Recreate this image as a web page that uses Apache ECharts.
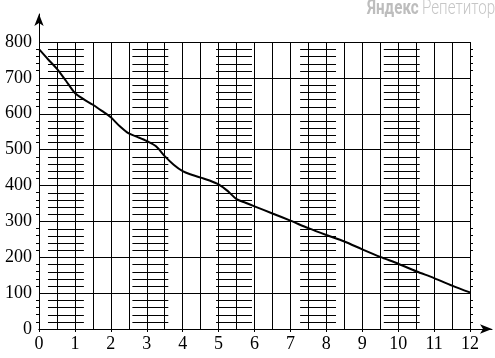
<!DOCTYPE html>
<html>
<head>
<meta charset="utf-8">
<script src="https://cdn.jsdelivr.net/npm/echarts@6/dist/echarts.min.js"></script>
<style>html,body{margin:0;padding:0;background:#fff}#c{width:495px;height:358px}</style>
</head>
<body>
<div id="c"></div>
<script>
// Curve data (x, y)
var xs = [0, 0.25, 0.5, 0.75, 1, 1.25, 1.5, 1.75, 2, 2.25, 2.5, 2.75, 3, 3.25, 3.5, 3.75, 4, 4.25, 4.5, 4.75, 5, 5.25, 5.5, 5.75, 6, 6.5, 7, 7.5, 8, 8.5, 9, 9.5, 10, 10.5, 11, 11.5, 12];
var ys = [780, 752, 725, 692, 658, 640, 625, 608, 590, 565, 545, 535, 524, 510, 482, 458, 440, 430, 422, 414, 403, 385, 362, 352, 342, 322, 302, 281, 262, 244, 222, 201, 182, 161, 142, 121, 102];
var xTicks = [0, 1, 2, 3, 4, 5, 6, 7, 8, 9, 10, 11, 12];
var yTicks = [0, 100, 200, 300, 400, 500, 600, 700, 800];
// Fine-ruled bands (x start, x end)
var bandStart = [0.25, 2.6, 4.93, 7.27, 9.6];
var bandEnd = [1.25, 3.6, 5.93, 8.27, 10.6];
var ruleLevels = [20, 40, 60, 80, 120, 140, 160, 180, 220, 240, 260, 280, 320, 340, 360, 380, 420, 440, 460, 480, 520, 540, 560, 580, 620, 640, 660, 680, 720, 740, 760, 780];

var curve = xs.map(function (x, i) { return [x, ys[i]]; });
var rules = [];
bandStart.forEach(function (s, i) {
  ruleLevels.forEach(function (y) { rules.push([s, bandEnd[i], y]); });
});

var font = 'Liberation Serif';
var chart = echarts.init(document.getElementById('c'), null, {renderer: 'canvas'});
chart.setOption({
  animation: false,
  backgroundColor: '#fff',
  graphic: [
    {
      type: 'text', x: 367, y: -1, scaleX: 0.76, scaleY: 1, originX: 0, originY: 0, silent: true,
      style: {text: 'Яндекс', font: 'bold 20px Roboto', fill: '#bdbdbd', textVerticalAlign: 'top'}
    },
    {
      type: 'text', x: 422, y: -1, scaleX: 0.76, scaleY: 1, originX: 0, originY: 0, silent: true,
      style: {text: 'Репетитор', font: '300 20px Roboto', fill: '#c6c6c6', textVerticalAlign: 'top'}
    }
  ],
  grid: [
    {left: 39, right: 25, top: 42, bottom: 29},
    {left: 39, right: 3, top: 42, bottom: 29},
    {left: 39, right: 25, top: 14, bottom: 29}
  ],
  xAxis: [
    {
      gridIndex: 0, type: 'value', min: 0, max: 12, interval: 1,
      axisLine: {show: true, lineStyle: {color: '#000', width: 1}},
      axisTick: {show: true, length: 3, lineStyle: {color: '#000'}},
      axisLabel: {fontFamily: font, fontSize: 18, color: '#000', margin: 6,
        formatter: function (v) { return xTicks.indexOf(v) >= 0 ? String(v) : ''; }},
      splitLine: {show: true, lineStyle: {color: '#000', width: 1}},
      minorTick: {show: false, splitNumber: 2},
      minorSplitLine: {show: true, lineStyle: {color: '#000', width: 1}}
    },
    {
      gridIndex: 1, type: 'value', min: 0, max: 12,
      axisLine: {show: true, symbol: ['none', 'arrow'], symbolSize: [7, 12], lineStyle: {color: '#000', width: 1}},
      axisTick: {show: false}, axisLabel: {show: false}, splitLine: {show: false}
    },
    {
      gridIndex: 2, type: 'value', min: 0, max: 12, show: false
    }
  ],
  yAxis: [
    {
      gridIndex: 0, type: 'value', min: 0, max: 800, interval: 100,
      axisLine: {show: true, lineStyle: {color: '#000', width: 1}},
      axisTick: {show: false},
      axisLabel: {fontFamily: font, fontSize: 18, color: '#000', margin: 7,
        formatter: function (v) { return yTicks.indexOf(v) >= 0 ? String(v) : ''; }},
      splitLine: {show: true, lineStyle: {color: '#000', width: 1}},
      minorTick: {show: true, splitNumber: 5, length: 3, lineStyle: {color: '#000'}},
      minorSplitLine: {show: false}
    },
    {
      gridIndex: 0, type: 'value', min: 0, max: 800, interval: 100, position: 'right',
      axisLine: {show: false},
      axisTick: {show: false},
      axisLabel: {show: false},
      splitLine: {show: false},
      minorTick: {show: true, splitNumber: 5, length: 3, lineStyle: {color: '#000'}}
    },
    {
      gridIndex: 1, type: 'value', min: 0, max: 800, show: false
    },
    {
      gridIndex: 2, type: 'value', min: 0, max: 800,
      axisLine: {show: true, symbol: ['none', 'arrow'], symbolSize: [7, 12], lineStyle: {color: '#000', width: 1}},
      axisTick: {show: false}, axisLabel: {show: false}, splitLine: {show: false}
    }
  ],
  series: [
    {
      type: 'custom', xAxisIndex: 0, yAxisIndex: 0, silent: true,
      data: rules,
      renderItem: function (params, api) {
        var p1 = api.coord([api.value(0), api.value(2)]);
        var p2 = api.coord([api.value(1), api.value(2)]);
        return {
          type: 'line',
          shape: {x1: p1[0], y1: Math.round(p1[1]) + 0.5, x2: p2[0], y2: Math.round(p2[1]) + 0.5},
          style: {stroke: '#000', lineWidth: 1}
        };
      }
    },
    {
      type: 'line', xAxisIndex: 0, yAxisIndex: 0, data: curve,
      smooth: 0.3, showSymbol: false, symbol: 'none',
      lineStyle: {color: '#000', width: 2}, z: 5
    }
  ]
});
</script>
</body>
</html>
